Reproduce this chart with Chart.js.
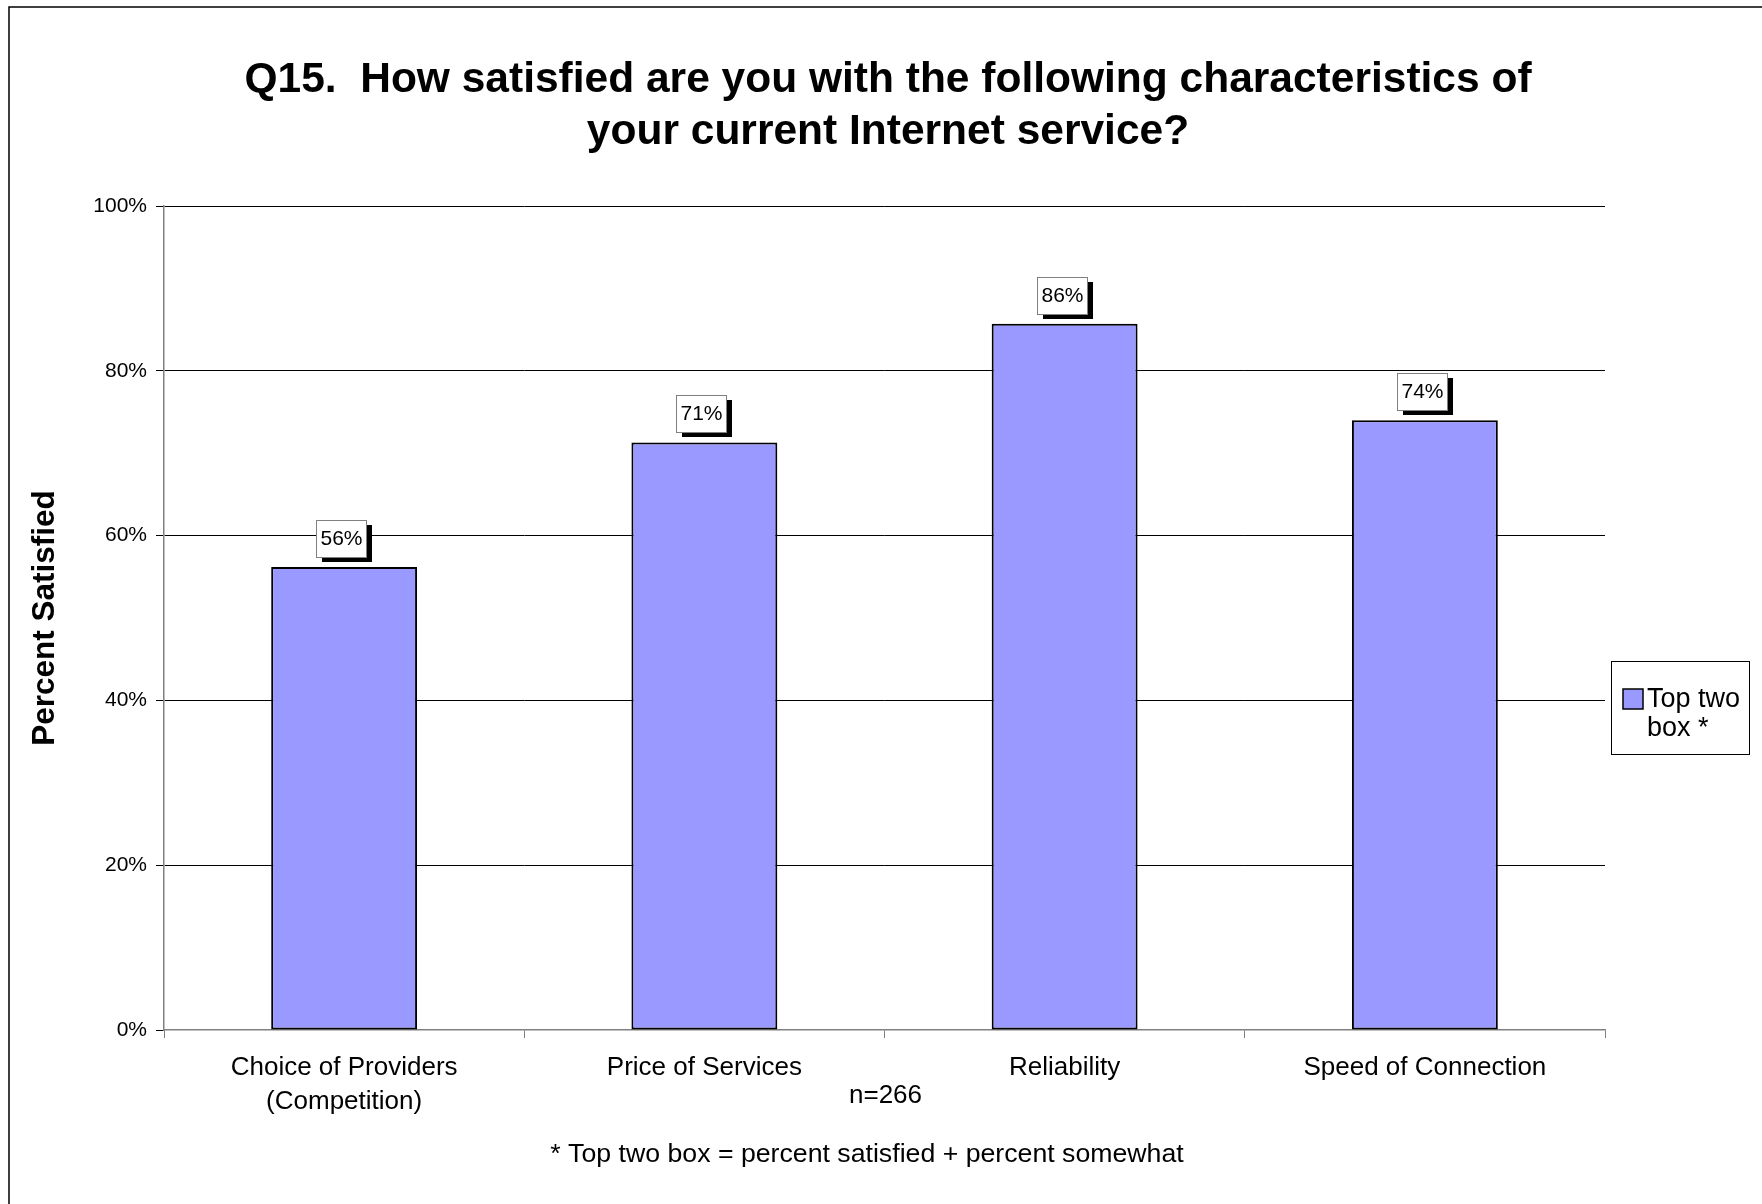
<!DOCTYPE html>
<html>
<head>
<meta charset="utf-8">
<script src="https://cdn.jsdelivr.net/npm/chart.js@4/dist/chart.umd.min.js"></script>
<style>
    html, body { margin: 0; padding: 0; background: #ffffff; }
    #wrap { width: 1762px; height: 1204px; position: relative; }
</style>
</head>
<body>
<div id="wrap"><canvas id="chart"></canvas></div>
<script>
// Chart data
const categories = [
    ['Choice of Providers', '(Competition)'],
    'Price of Services',
    'Reliability',
    'Speed of Connection',
];
const satisfied = [56.2, 71.3, 85.7, 74.0];
const valueLabels = ['56%', '71%', '86%', '74%'];
const yTicks = [0, 20, 40, 60, 80, 100];
const seriesName = ['Top two', 'box *'];
const titleLines = [
    'Q15.  How satisfied are you with the following characteristics of',
    'your current Internet service?',
];
const sampleNote = 'n=266';
const footNote = '* Top two box = percent satisfied + percent somewhat';

const BAR_FILL = '#9999FF';
const FONT = 'Arial, "Liberation Sans", Helvetica, sans-serif';

// Frame, title, legend box and notes
const decorPlugin = {
    id: 'decor',
    beforeDraw: (chart) => {
        const ctx = chart.ctx;
        ctx.save();
        ctx.fillStyle = '#ffffff';
        ctx.fillRect(0, 0, chart.width, chart.height);
        ctx.strokeStyle = '#000000';
        ctx.lineWidth = 1.5;
        ctx.beginPath();
        ctx.moveTo(9, chart.height);
        ctx.lineTo(9, 7);
        ctx.lineTo(chart.width, 7);
        ctx.stroke();
        ctx.restore();
    },
    afterDraw: (chart) => {
        const ctx = chart.ctx;
        const area = chart.chartArea;
        ctx.save();
        ctx.fillStyle = '#000000';
        ctx.textAlign = 'center';
        ctx.textBaseline = 'alphabetic';

        // title
        ctx.font = 'bold 42.5px ' + FONT;
        ctx.fillText(titleLines[0], 888, 92);
        ctx.fillText(titleLines[1], 888, 144);

        // notes under the axis
        ctx.textBaseline = 'middle';
        ctx.font = '26px ' + FONT;
        ctx.fillText(sampleNote, (area.left + area.right) / 2 + 1, 1096);
        ctx.font = '26.7px ' + FONT;
        ctx.fillText(footNote, 867, 1155);

        // legend
        const lx = 1611, ly = 661, lw = 138, lh = 93;
        ctx.fillStyle = '#ffffff';
        ctx.fillRect(lx, ly, lw, lh);
        ctx.strokeStyle = '#000000';
        ctx.lineWidth = 1;
        ctx.strokeRect(lx + 0.5, ly + 0.5, lw, lh);
        ctx.fillStyle = BAR_FILL;
        ctx.fillRect(1623, 689, 20, 20);
        ctx.lineWidth = 1.5;
        ctx.strokeRect(1623, 689, 20, 20);
        ctx.fillStyle = '#000000';
        ctx.font = '27px ' + FONT;
        ctx.textAlign = 'left';
        ctx.fillText(seriesName[0], 1647, 700);
        ctx.fillText(seriesName[1], 1647, 729);
        ctx.restore();
    },
};

// Value boxes with drop shadow above each bar
const valueBoxPlugin = {
    id: 'valueBoxes',
    afterDatasetsDraw: (chart) => {
        const ctx = chart.ctx;
        const meta = chart.getDatasetMeta(0);
        ctx.save();
        ctx.font = '21px ' + FONT;
        ctx.textAlign = 'center';
        ctx.textBaseline = 'middle';
        meta.data.forEach((bar, i) => {
            const w = 50, h = 37;
            const x = Math.round(bar.x - 28);
            const y = Math.round(bar.y - 10 - h);
            ctx.fillStyle = '#000000';
            ctx.fillRect(x + 6, y + 5, w, h);
            ctx.fillStyle = '#ffffff';
            ctx.fillRect(x, y, w, h);
            ctx.strokeStyle = '#808080';
            ctx.lineWidth = 1;
            ctx.strokeRect(x + 0.5, y + 0.5, w, h);
            ctx.fillStyle = '#000000';
            ctx.fillText(valueLabels[i], x + w / 2 + 0.5, y + h / 2 + 1);
        });
        ctx.restore();
    },
};

new Chart(document.getElementById('chart'), {
    type: 'bar',
    data: {
        labels: categories,
        datasets: [
            {
                label: seriesName.join(' '),
                data: satisfied,
                backgroundColor: BAR_FILL,
                borderColor: '#000000',
                borderWidth: 2,
                borderSkipped: false,
                barPercentage: 0.405,
                categoryPercentage: 1.0,
            },
        ],
    },
    plugins: [decorPlugin, valueBoxPlugin],
    options: {
        responsive: true,
        maintainAspectRatio: false,
        animation: false,
        layout: {
            padding: { left: 0, top: 206, right: 157, bottom: 0 },
        },
        plugins: {
            legend: { display: false },
            title: { display: false },
            tooltip: { enabled: false },
        },
        scales: {
            x: {
                afterFit: (scale) => {
                    scale.height = 174;
                },
                border: { color: '#808080', width: 1.5 },
                grid: {
                    offset: true,
                    drawOnChartArea: false,
                    drawTicks: true,
                    tickLength: 8,
                    color: '#808080',
                },
                ticks: {
                    color: '#000000',
                    padding: 13,
                    maxRotation: 0,
                    autoSkip: false,
                    font: { family: FONT, size: 26, lineHeight: 1.3 },
                },
            },
            y: {
                min: 0,
                max: 100,
                afterFit: (scale) => {
                    scale.width = 164;
                },
                afterBuildTicks: (scale) => {
                    scale.ticks = yTicks.map((v) => ({ value: v }));
                },
                border: { color: '#808080', width: 1.5 },
                grid: {
                    color: (c) => (c.tick && c.tick.value === 0 ? 'rgba(0,0,0,0)' : '#000000'),
                    tickColor: '#000000',
                    lineWidth: 1,
                    drawTicks: true,
                    tickLength: 8,
                },
                ticks: {
                    color: '#000000',
                    padding: 9,
                    font: { family: FONT, size: 21 },
                    callback: (v) => v + '%',
                },
                title: {
                    display: true,
                    text: 'Percent Satisfied',
                    color: '#000000',
                    padding: { top: 26, bottom: 0 },
                    font: { family: FONT, size: 31.5, weight: 'bold' },
                },
            },
        },
    },
});
</script>
</body>
</html>
